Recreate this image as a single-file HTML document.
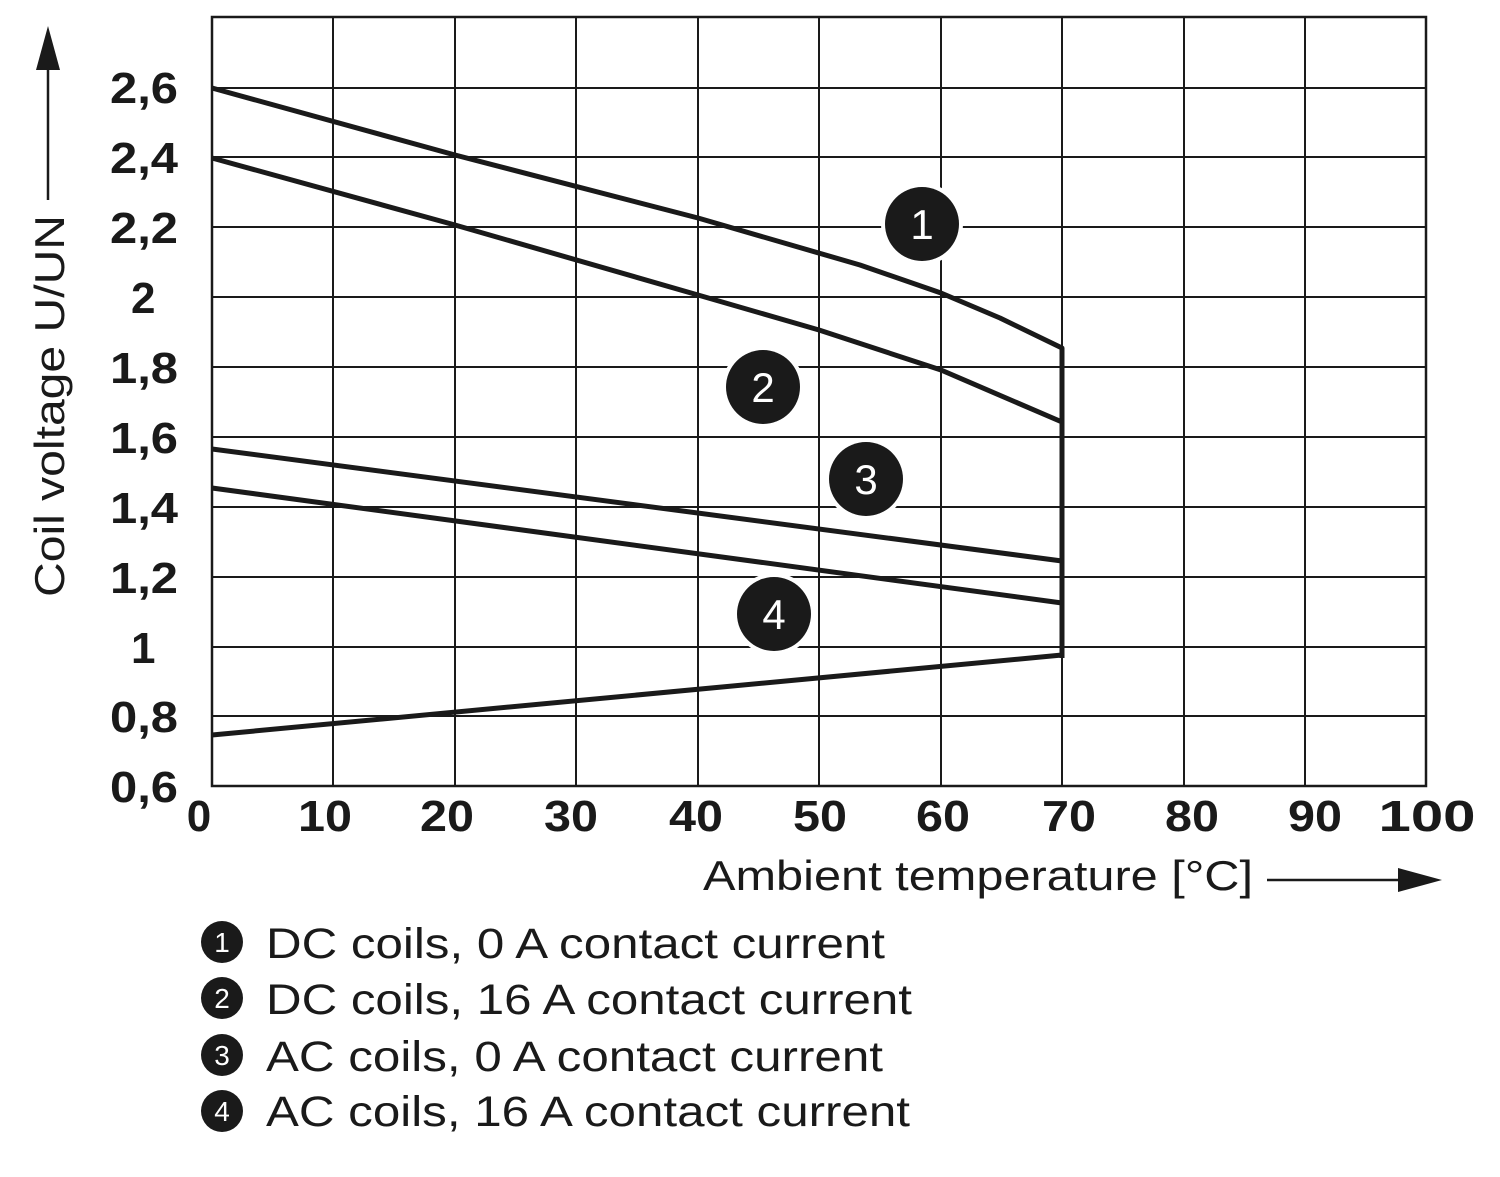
<!DOCTYPE html>
<html><head><meta charset="utf-8"><style>body{margin:0;background:#fff}</style></head><body>
<svg width="1500" height="1172" viewBox="0 0 1500 1172" xmlns="http://www.w3.org/2000/svg" font-family="Liberation Sans, Arial, sans-serif">
<rect width="1500" height="1172" fill="#fff"/>
<g stroke="#1a1a1a" stroke-width="2" fill="none">
<line x1="333" y1="17" x2="333" y2="786"/><line x1="455" y1="17" x2="455" y2="786"/><line x1="576" y1="17" x2="576" y2="786"/><line x1="698" y1="17" x2="698" y2="786"/><line x1="819" y1="17" x2="819" y2="786"/><line x1="941" y1="17" x2="941" y2="786"/><line x1="1062" y1="17" x2="1062" y2="786"/><line x1="1184" y1="17" x2="1184" y2="786"/><line x1="1305" y1="17" x2="1305" y2="786"/>
<line x1="212" y1="88" x2="1426" y2="88"/><line x1="212" y1="157" x2="1426" y2="157"/><line x1="212" y1="227" x2="1426" y2="227"/><line x1="212" y1="297" x2="1426" y2="297"/><line x1="212" y1="367" x2="1426" y2="367"/><line x1="212" y1="437" x2="1426" y2="437"/><line x1="212" y1="507" x2="1426" y2="507"/><line x1="212" y1="577" x2="1426" y2="577"/><line x1="212" y1="647" x2="1426" y2="647"/><line x1="212" y1="716" x2="1426" y2="716"/>
<rect x="212" y="17" width="1214" height="769" stroke-width="2.5"/>
</g>
<g stroke="#1a1a1a" stroke-width="5" fill="none" stroke-linejoin="round">
<polyline points="212,88 455,155 698,218 860,265 941,293 1000,318 1062,348 1062,658"/>
<polyline points="212,158 455,225 698,295 819,330 941,370 1062,422"/>
<line x1="212" y1="449" x2="1062" y2="561"/>
<line x1="212" y1="488" x2="1062" y2="603"/>
<line x1="212" y1="735" x2="1062" y2="655"/>
</g>
<g font-size="44" font-weight="bold" fill="#1a1a1a">
<text x="110" y="103" textLength="68" lengthAdjust="spacingAndGlyphs">2,6</text><text x="110" y="173" textLength="68" lengthAdjust="spacingAndGlyphs">2,4</text><text x="110" y="243" textLength="68" lengthAdjust="spacingAndGlyphs">2,2</text><text x="131" y="313">2</text><text x="110" y="383" textLength="68" lengthAdjust="spacingAndGlyphs">1,8</text><text x="110" y="453" textLength="68" lengthAdjust="spacingAndGlyphs">1,6</text><text x="110" y="523" textLength="68" lengthAdjust="spacingAndGlyphs">1,4</text><text x="110" y="593" textLength="68" lengthAdjust="spacingAndGlyphs">1,2</text><text x="131" y="663">1</text><text x="110" y="732" textLength="68" lengthAdjust="spacingAndGlyphs">0,8</text><text x="110" y="802" textLength="68" lengthAdjust="spacingAndGlyphs">0,6</text>
</g>
<g font-size="44" font-weight="bold" fill="#1a1a1a" text-anchor="middle">
<text x="199" y="831">0</text><text x="325" y="831" textLength="54" lengthAdjust="spacingAndGlyphs">10</text><text x="447" y="831" textLength="54" lengthAdjust="spacingAndGlyphs">20</text><text x="571" y="831" textLength="54" lengthAdjust="spacingAndGlyphs">30</text><text x="696" y="831" textLength="54" lengthAdjust="spacingAndGlyphs">40</text><text x="820" y="831" textLength="54" lengthAdjust="spacingAndGlyphs">50</text><text x="943" y="831" textLength="54" lengthAdjust="spacingAndGlyphs">60</text><text x="1069" y="831" textLength="54" lengthAdjust="spacingAndGlyphs">70</text><text x="1192" y="831" textLength="54" lengthAdjust="spacingAndGlyphs">80</text><text x="1315" y="831" textLength="54" lengthAdjust="spacingAndGlyphs">90</text><text x="1427" y="831" textLength="97" lengthAdjust="spacingAndGlyphs">100</text>
</g>
<text transform="translate(64,597) rotate(-90)" font-size="42" fill="#1a1a1a" textLength="382" lengthAdjust="spacingAndGlyphs">Coil voltage U/UN</text>
<line x1="48" y1="200" x2="48" y2="65" stroke="#1a1a1a" stroke-width="2.5"/>
<polygon points="48,26 36,70 60,70" fill="#1a1a1a"/>
<text x="703" y="890" font-size="42" fill="#1a1a1a" textLength="550" lengthAdjust="spacingAndGlyphs">Ambient temperature [°C]</text>
<line x1="1267" y1="880" x2="1405" y2="880" stroke="#1a1a1a" stroke-width="2.5"/>
<polygon points="1442,880 1398,868 1398,892" fill="#1a1a1a"/>
<g font-size="42" text-anchor="middle">
<circle cx="922" cy="224" r="41" fill="#fff"/><circle cx="922" cy="224" r="37" fill="#1a1a1a"/><text x="922" y="239" fill="#fff">1</text>
<circle cx="763" cy="387" r="41" fill="#fff"/><circle cx="763" cy="387" r="37" fill="#1a1a1a"/><text x="763" y="402" fill="#fff">2</text>
<circle cx="866" cy="479" r="41" fill="#fff"/><circle cx="866" cy="479" r="37" fill="#1a1a1a"/><text x="866" y="494" fill="#fff">3</text>
<circle cx="774" cy="614" r="41" fill="#fff"/><circle cx="774" cy="614" r="37" fill="#1a1a1a"/><text x="774" y="629" fill="#fff">4</text>
</g>
<g font-size="28" text-anchor="middle" fill="#fff">
<circle cx="222" cy="942" r="21" fill="#1a1a1a"/><text x="222" y="952">1</text>
<circle cx="222" cy="998" r="21" fill="#1a1a1a"/><text x="222" y="1008">2</text>
<circle cx="222" cy="1055" r="21" fill="#1a1a1a"/><text x="222" y="1065">3</text>
<circle cx="222" cy="1111" r="21" fill="#1a1a1a"/><text x="222" y="1121">4</text>
</g>
<g font-size="43" fill="#1a1a1a">
<text x="266" y="958" textLength="619" lengthAdjust="spacingAndGlyphs">DC coils, 0 A contact current</text>
<text x="266" y="1014" textLength="646" lengthAdjust="spacingAndGlyphs">DC coils, 16 A contact current</text>
<text x="266" y="1071" textLength="617" lengthAdjust="spacingAndGlyphs">AC coils, 0 A contact current</text>
<text x="266" y="1126" textLength="644" lengthAdjust="spacingAndGlyphs">AC coils, 16 A contact current</text>
</g>
</svg>
</body></html>
